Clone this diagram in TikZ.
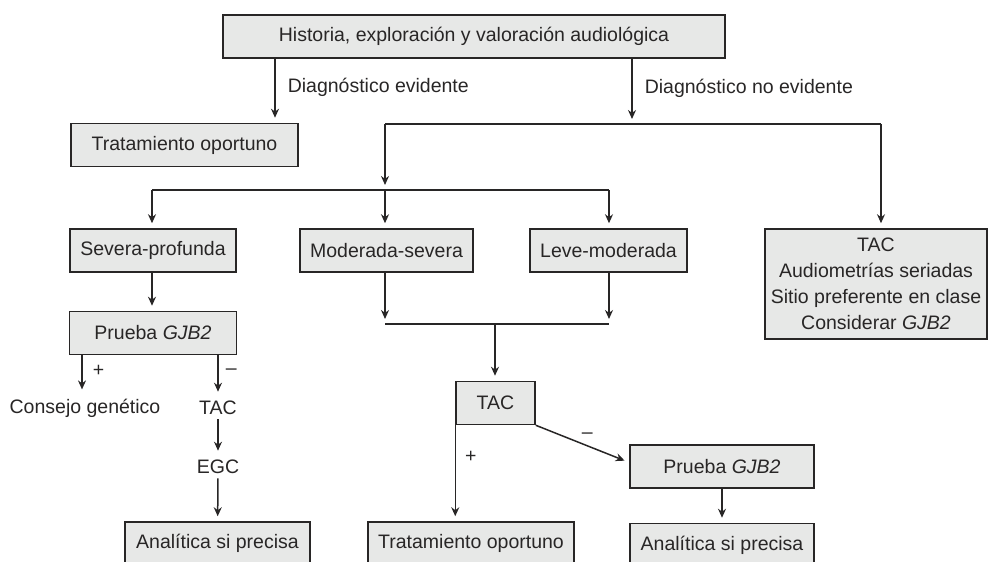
\documentclass[tikz,border=0pt]{standalone}
\usepackage{fontspec}
\setmainfont{Liberation Sans}
\usetikzlibrary{arrows.meta,positioning}
\definecolor{boxgray}{RGB}{231,232,231}
\definecolor{inkgray}{RGB}{40,38,38}

\begin{document}
\begin{tikzpicture}[x=0.5pt, y=-0.5pt, >={Stealth[length=4.5pt, width=4pt]}]
  \tikzstyle{every node} = [font=\fontsize{9.75}{13}\selectfont,
                            text=inkgray,
                            inner sep=2pt]
  \tikzstyle{box} = [draw=inkgray, fill=boxgray, line width=0.75pt,
                     minimum height=21.5pt, inner sep=0pt, align=center]
  \tikzstyle{line} = [draw=inkgray, line width=0.75pt]
  \tikzstyle{arr} = [line, ->, shorten >=2.5pt]
\useasboundingbox (0,0) rectangle (988,561);

% boxes
\node[box, minimum width=251pt] (hist) at (474,36.5) {Historia, exploración y valoración audiológica};
\node[box, minimum width=113.5pt] (trat1) at (184.5,145) {Tratamiento oportuno};
\node[box, minimum width=83pt] (sev) at (153,250.5) {Severa-profunda};
\node[box, minimum width=86.5pt] (mod) at (386.5,250.5) {Moderada-severa};
\node[box, minimum width=78.5pt] (leve) at (608.5,250.5) {Leve-moderada};
\node[box, minimum width=111pt, minimum height=55pt] (tacA) at (876,284)
  {TAC\\Audiometrías seriadas\\Sitio preferente en clase\\Considerar \textit{GJB2}};
\node[box, minimum width=83.5pt, below=19pt of sev] (gjbA) {Prueba \textit{GJB2}};
\node (consejo) at (85,408) {Consejo genético};
\node (tacB) at (218,408) {TAC};
\node (egc) at (218,467) {EGC};
\node[box, minimum width=92.5pt] (analA) at (217.5,543.5) {Analítica si precisa};
\node[box, minimum width=39.5pt] (tacC) at (495.5,403) {TAC};
\node[box, minimum width=103pt] (trat2) at (471,543.5) {Tratamiento oportuno};
\node[box, minimum width=92pt] (gjbB) at (722,466.5) {Prueba \textit{GJB2}};
\node[box, minimum width=92pt, below=17pt of gjbB] (analB) {Analítica si precisa};

% branch points
\coordinate (xe) at (275,0);
\coordinate (xn) at (632,0);
\coordinate (xp) at (82,0);
\coordinate (xm) at (218,0);
\coordinate (r1) at (385,124);
\coordinate (r2) at (881,124);
\coordinate (m1) at (152,190);
\coordinate (m2) at (385,190);
\coordinate (m3) at (609,190);
\coordinate (j1) at (385,324);
\coordinate (j2) at (609,324);
\coordinate (j3) at (495,324);

% connectors
\draw[arr] (hist.south -| xe) -- (trat1.north -| xe)
  node[pos=0.45, right=4pt] {Diagnóstico evidente};
\draw[arr] (hist.south -| xn) -- (r1 -| xn)
  node[pos=0.45, right=4pt] {Diagnóstico no evidente};
\draw[line] (r1) -- (r2);
\draw[arr] (r2) -- (r2 |- tacA.north);
\draw[arr] (r1) -- (m2);
\draw[line] (m1) -- (m3);
\draw[arr] (m1) -- (m1 |- sev.north);
\draw[arr] (m2) -- (m2 |- mod.north);
\draw[arr] (m3) -- (m3 |- leve.north);
\draw[arr] (sev.south -| m1) -- (gjbA.north -| m1);
\draw[arr] (mod.south -| j1) -- (j1);
\draw[arr] (leve.south -| j2) -- (j2);
\draw[line] (j1) -- (j2);
\draw[arr] (j3) -- (tacC.north -| j3);

\draw[arr] (gjbA.south -| xp) -- (consejo.north -| xp)
  node[pos=0.4, right=3pt] {+};
\draw[arr] (gjbA.south -| xm) -- (tacB.north)
  node[pos=0.4, right=1.5pt] {–};
\draw[arr] (tacB) -- (egc);
\draw[arr] (egc) -- (analA);

\draw[arr] (tacC.south west) -- (tacC.south west |- trat2.north)
  node[pos=0.33, right=2.5pt] {+};
\draw[arr] (tacC.south east) -- ([yshift=2pt]gjbB.west)
  node[pos=0.55, above=1pt] {–};
\draw[arr] (gjbB) -- (analB);

\end{tikzpicture}
\end{document}
